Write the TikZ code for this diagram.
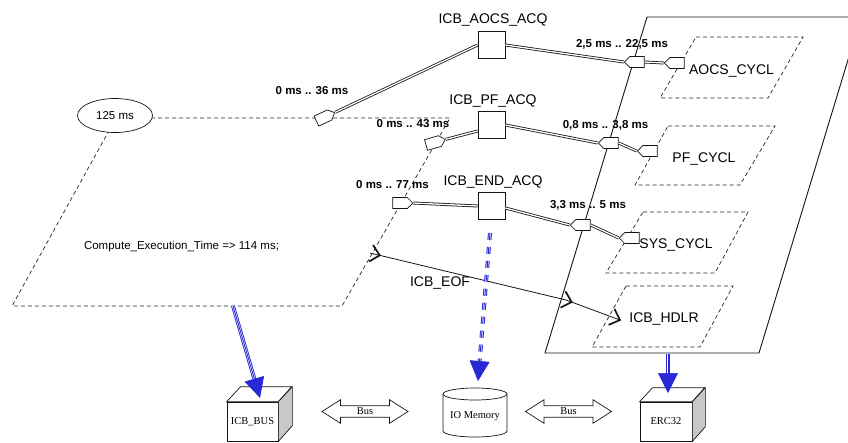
\documentclass[tikz,border=0pt]{standalone}
\usepackage{fontspec}
\setmainfont{Liberation Sans}
\newfontfamily\tnr{Liberation Serif}
\usetikzlibrary{shapes.symbols,shapes.arrows,shapes.geometric,arrows.meta,calc}
\definecolor{arrblue}{RGB}{40,40,215}
\definecolor{sidegray}{RGB}{200,200,200}
\definecolor{ink}{RGB}{20,20,20}
\begin{document}
\begin{tikzpicture}[x=1pt,y=-1pt,
  dashedline/.style={draw=black!85, line width=0.7pt, dash pattern=on 4pt off 3pt},
  bigpar/.style={draw=ink, line width=0.9pt},
  sq/.style={draw=ink, fill=white, line width=0.8pt, minimum size=27pt, inner sep=0pt},
  biglabel/.style={anchor=base, font=\fontsize{14}{16}\selectfont, inner sep=0pt},
  timelabel/.style={anchor=base, font=\bfseries\fontsize{11.5}{13}\selectfont, inner sep=0pt},
  smalllabel/.style={anchor=base, font=\fontsize{11.5}{13}\selectfont, inner sep=0pt},
  dbl/.style={draw=ink, line width=0.8pt, double=white, double distance=1.3pt},
  porte/.style={signal, signal to=east, draw=ink, fill=white, line width=0.7pt, minimum width=20pt, minimum height=11pt, inner sep=0pt},
  portw/.style={porte, signal to=west},
  eofline/.style={draw=ink, line width=0.8pt},
  chevron/.pic={\draw[ink, line width=1.7pt, line join=miter] (-9,-8.5) -- (0,0) -- (-9,8.5);},
  bshaft/.style={draw=arrblue, line width=0.9pt, double=white, double distance=2pt},
  bcenter/.style={draw=arrblue, line width=0.9pt},
  bhead/.style={draw=arrblue, fill=arrblue, line width=0.7pt, -{Triangle[length=20pt,width=20pt]}},
  cubeface/.style={draw=ink, line width=0.7pt, fill=white},
  cubeside/.style={draw=ink, line width=0.7pt, fill=sidegray},
  serifbox/.style={font=\tnr\fontsize{10.5}{12}\selectfont},
  busarrow/.style={double arrow, draw=ink, fill=white, line width=0.7pt, minimum height=86pt,
     inner xsep=2pt, inner ysep=1.9pt, double arrow head extend=6pt, double arrow tip angle=65,
     font=\tnr\fontsize{10.5}{12}\selectfont}
]
\useasboundingbox (0,0) rectangle (848,442);
\clip (0,0) rectangle (848,442);
\fill[white] (0,0) rectangle (848,442);

% left dashed parallelogram and big solid one
\draw[dashedline] (116,118) -- (450,118) -- (342,306) -- (12,306) -- cycle;
\draw[bigpar] (647,17) -- (861,17) -- (759,353) -- (545,353) -- cycle;

% inner dashed parallelograms
\draw[dashedline] (696,37) -- (803,37) -- (768,98) -- (660,98) -- cycle;
\draw[dashedline] (668,126) -- (775,126) -- (740,185) -- (635,185) -- cycle;
\draw[dashedline] (643,212) -- (748,212) -- (715,273) -- (606,273) -- cycle;
\draw[dashedline] (626,286) -- (733,286) -- (700,347) -- (592,347) -- cycle;

\node[biglabel] (lAC) at (731.5,74) {AOCS\_CYCL};
\node[biglabel] (lPC) at (704,162) {PF\_CYCL};
\node[biglabel] (lSC) at (676,248) {SYS\_CYCL};
\node[biglabel] (lHD) at (664,322) {ICB\_HDLR};

% ellipse
\node[ellipse, draw=ink, fill=white, line width=0.7pt, minimum width=75pt, minimum height=34pt, inner sep=0pt,
      font=\fontsize{11.5}{13}\selectfont] (e125) at (115,115.5) {125 ms};
\node[smalllabel] (comp) at (181.5,249) {Compute\_Execution\_Time => 114 ms;};

% squares
\node[sq] (sqA) at (491.5,45) {};
\node[sq] (sqP) at (491.5,125) {};
\node[sq] (sqE) at (491.5,206) {};
\node[biglabel] (lA) at (493,23) {ICB\_AOCS\_ACQ};
\node[biglabel] (lP) at (493,104) {ICB\_PF\_ACQ};
\node[biglabel] (lE) at (493,185) {ICB\_END\_ACQ};

% ports
\node[porte, rotate=25] (p36) at (323,118) {};
\node[porte, rotate=16] (p43) at (433,143) {};
\node[porte] (p77) at (400,203) {};
\node[portw] (oA) at (637,62) {};
\node[portw] (iA) at (677,63) {};
\node[portw] (oP) at (611,143) {};
\node[portw] (iP) at (650,151) {};
\node[portw] (oS) at (583,225) {};
\node[portw] (iS) at (632,238) {};

% time labels
\node[timelabel] (t36) at (312,94) {0 ms .. 36 ms};
\node[timelabel] (t43) at (413,127) {0 ms .. 43 ms};
\node[timelabel] (t77) at (392.5,188) {0 ms .. 77 ms};
\node[timelabel] (t225) at (622,47) {2,5 ms .. 22,5 ms};
\node[timelabel] (t38) at (605.5,128) {0,8 ms .. 3,8 ms};
\node[timelabel] (t5) at (588,208) {3,3 ms .. 5 ms};

% double connectors
\draw[dbl] (p36.east) -- (sqA.west);
\draw[dbl] (p43.east) -- ([yshift=-6pt]sqP.west);
\draw[dbl] (p77.east) -- (sqE.west);
\draw[dbl] (sqA.east) -- (oA.west);
\draw[dbl] (oA.east) -- (iA.west);
\draw[dbl] (sqP.east) -- (oP.west);
\draw[dbl] (oP.east) -- (iP.west);
\draw[dbl] ([yshift=-2pt]sqE.east) -- (oS.west);
\draw[dbl] (oS.east) -- (iS.west);

% EOF connector
\coordinate (e1) at (370,253);
\coordinate (e2) at (566,300);
\coordinate (e3) at (620,320);
\draw[eofline] (e1) -- (e2) -- (e3);
\pic[rotate=-13.5] at ($(e1)!10pt!(e2)$) {chevron};
\pic[rotate=-17] at ($(e2)!6pt!(e3)$) {chevron};
\pic[rotate=-20.3] at (e3) {chevron};
\node[biglabel] (leof) at (440,286) {ICB\_EOF};

% bottom elements
\node[cubeface, minimum width=51pt, minimum height=39pt, inner sep=0pt, serifbox] (bus) at (252.5,421.5) {ICB\_BUS};
\draw[cubeface] (bus.north west) -- ++(14,-15) -- ++(51,0) -- (bus.north east) -- cycle;
\draw[cubeside] (bus.north east) -- ++(14,-15) -- ++(0,39) -- (bus.south east) -- cycle;

\node[cubeface, minimum width=52pt, minimum height=39pt, inner sep=0pt, serifbox] (erc) at (666,421.5) {ERC32};
\draw[cubeface] (erc.north west) -- ++(13,-14) -- ++(52,0) -- (erc.north east) -- cycle;
\draw[cubeside] (erc.north east) -- ++(13,-14) -- ++(0,39) -- (erc.south east) -- cycle;

\draw[cubeface] (443,394) -- (443,431) arc[start angle=180, end angle=0, x radius=32, y radius=6] -- (507,394);
\draw[cubeface] (475,394) ellipse[x radius=32, y radius=6];
\node[serifbox, inner sep=0pt] (mem) at (475,416.5) {IO Memory};

\node[busarrow] (bus1) at (365,411.5) {Bus};
\node[busarrow] (bus2) at (568.5,411.5) {Bus};

% blue arrows
\coordinate (b1s) at (233,306);
\coordinate (b1e) at (260,398);
\draw[bshaft, shorten >=18pt] (b1s) -- (b1e);
\draw[bcenter, shorten >=18pt] (b1s) -- (b1e);
\draw[bhead] ($(b1e)!20pt!(b1s)$) -- (b1e);

\coordinate (b2s) at (490,233);
\coordinate (b2e) at (478,381);
\draw[bshaft, line width=1pt, dash pattern=on 7pt off 7pt, shorten >=20pt] (b2s) -- (b2e);
\draw[bcenter, line width=1pt, dash pattern=on 7pt off 7pt, shorten >=20pt] (b2s) -- (b2e);
\draw[bhead] ($(b2e)!20pt!(b2s)$) -- (b2e);

\coordinate (b3s) at (668,354);
\coordinate (b3e) at (668,393);
\draw[bshaft, shorten >=18pt] (b3s) -- (b3e);
\draw[bcenter, shorten >=18pt] (b3s) -- (b3e);
\draw[bhead] ($(b3e)!20pt!(b3s)$) -- (b3e);
\end{tikzpicture}
\end{document}
